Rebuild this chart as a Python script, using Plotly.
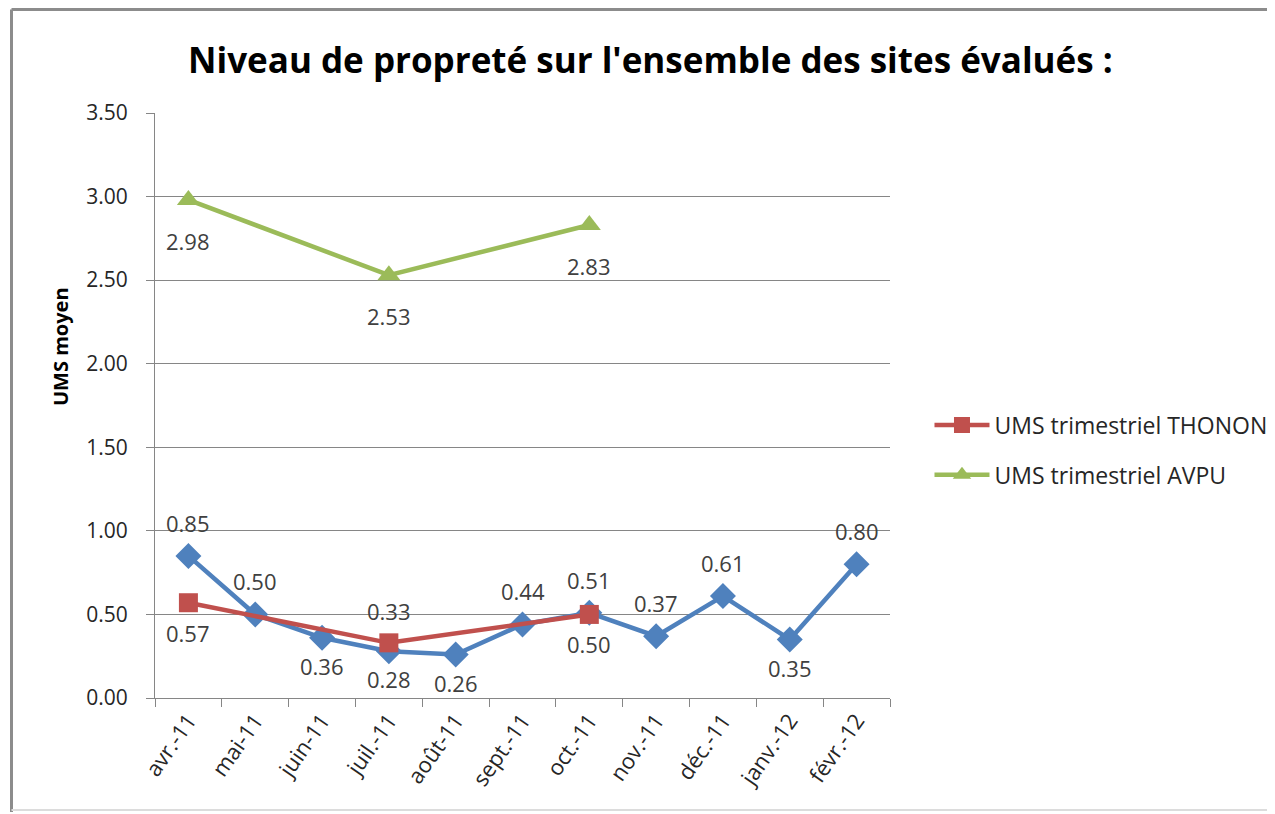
import plotly.graph_objects as go

months = ["avr.-11", "mai-11", "juin-11", "juil.-11", "août-11", "sept.-11",
          "oct.-11", "nov.-11", "déc.-11", "janv.-12", "févr.-12"]
monthly_values = [0.85, 0.50, 0.36, 0.28, 0.26, 0.44, 0.51, 0.37, 0.61, 0.35, 0.80]
monthly_label_pos = ["above", "above", "below", "below", "below", "above",
                     "above", "above", "above", "below", "above"]

quarter_months = ["avr.-11", "juil.-11", "oct.-11"]
thonon_values = [0.57, 0.33, 0.50]
thonon_label_pos = ["below", "above", "below"]
avpu_values = [2.98, 2.53, 2.83]
avpu_label_pos = ["below", "below", "below"]

y_ticks = [0, 0.5, 1.0, 1.5, 2.0, 2.5, 3.0, 3.5]

BLUE = "#4F81BD"
RED = "#C0504D"
GREEN = "#9BBB59"
FONT = "Open Sans"
LABEL_FONT = dict(family=FONT, size=22, color="#404040")

fig = go.Figure()
fig.add_trace(go.Scatter(
    x=months, y=monthly_values, mode="lines+markers",
    line=dict(color=BLUE, width=4.5),
    marker=dict(symbol="diamond", size=20, color=BLUE),
    showlegend=False, cliponaxis=False,
))
fig.add_trace(go.Scatter(
    x=quarter_months, y=thonon_values, mode="lines+markers",
    name="UMS trimestriel THONON", legendgroup="a",
    line=dict(color=RED, width=4.5),
    marker=dict(symbol="square", size=19, color=RED),
    cliponaxis=False,
))
fig.add_trace(go.Scatter(
    x=quarter_months, y=avpu_values, mode="lines+markers",
    name="UMS trimestriel AVPU", legendgroup="b",
    line=dict(color=GREEN, width=4.5),
    marker=dict(symbol="triangle-up", size=20, color=GREEN),
    cliponaxis=False,
))

# data labels, anchored on the data points
def add_labels(xs, ys, positions, up, down):
    for xv, yv, p in zip(xs, ys, positions):
        fig.add_annotation(x=xv, y=yv, xref="x", yref="y", text=f"{yv:.2f}",
                           showarrow=False, font=LABEL_FONT,
                           yshift=up if p == "above" else -down)

add_labels(months, monthly_values, monthly_label_pos, 33, 28)
add_labels(quarter_months, thonon_values, thonon_label_pos, 32, 30)
add_labels(quarter_months, avpu_values, avpu_label_pos, 0, 41)

fig.update_layout(
    width=1267, height=806,
    margin=dict(l=147, r=385, t=105, b=116, autoexpand=False),
    paper_bgcolor="white", plot_bgcolor="white",
    title=dict(text="<b>Niveau de propreté sur l'ensemble des sites évalués :</b>",
               x=0.507, xanchor="center", y=0.935, yanchor="middle",
               font=dict(family=FONT, size=35, color="black")),
    legend=dict(xref="container", yref="container", x=0.7273, y=0.4516,
                xanchor="left", yanchor="middle",
                font=dict(family=FONT, size=23, color="#262626"),
                itemwidth=55, tracegroupgap=17, bgcolor="rgba(0,0,0,0)"),
    xaxis=dict(type="category", categoryorder="array", categoryarray=months,
               range=[-0.5, 10.5], tickson="boundaries", ticks="outside",
               ticklen=8, tickcolor="#868686", showline=True, linecolor="#868686",
               linewidth=1, showgrid=False, tickangle=-55,
               tickfont=dict(family=FONT, size=22, color="#262626")),
    yaxis=dict(range=[0, 3.5], tickvals=y_ticks, tickformat=".2f",
               ticks="outside", ticklen=8, tickcolor="#868686",
               ticklabelstandoff=14,
               showline=True, linecolor="#868686", linewidth=1,
               showgrid=True, gridcolor="#868686", gridwidth=1,
               zeroline=False,
               tickfont=dict(family=FONT, size=21, color="#262626")),
)

# y-axis title (placed as in the reference, above the axis middle)
fig.add_annotation(text="<b>UMS moyen</b>", xref="paper", yref="paper",
                   x=(60 - 155) / 735, y=(698 - 347) / 585, textangle=-90,
                   showarrow=False, xanchor="center", yanchor="middle",
                   font=dict(family=FONT, size=20, color="black"))

# chart frame
def px_x(v):
    return (v - 155) / 735

def px_y(v):
    return (698 - v) / 585

fig.add_shape(type="line", xref="paper", yref="paper",
              x0=px_x(11.5), x1=px_x(1290), y0=px_y(9.5), y1=px_y(9.5),
              line=dict(color="#8c8c8c", width=3))
fig.add_shape(type="line", xref="paper", yref="paper",
              x0=px_x(11.5), x1=px_x(11.5), y0=px_y(9.5), y1=px_y(812),
              line=dict(color="#8c8c8c", width=3))
fig.add_shape(type="line", xref="paper", yref="paper",
              x0=px_x(11.5), x1=px_x(1290), y0=px_y(810), y1=px_y(810),
              line=dict(color="#dcdcdc", width=2))

fig.write_html("out.html")
